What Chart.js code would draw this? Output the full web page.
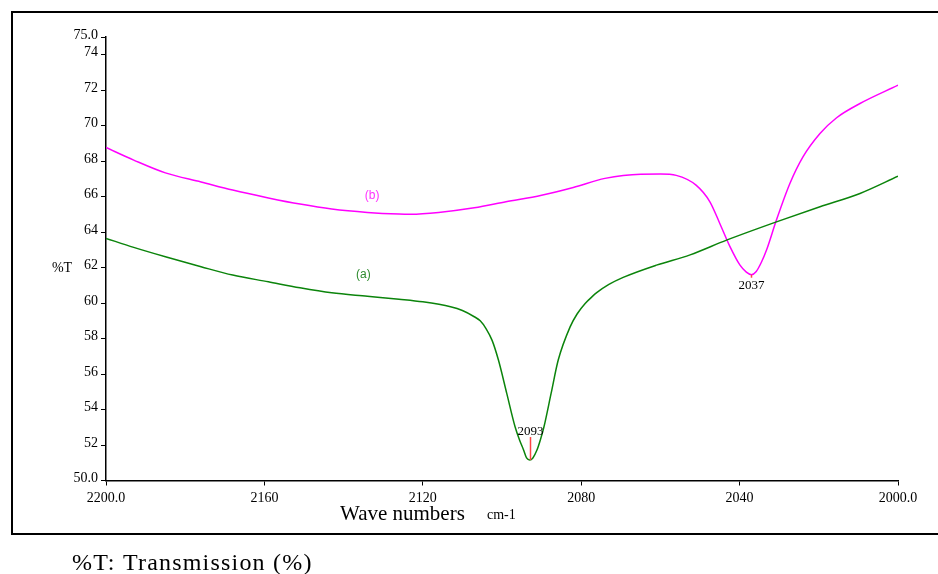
<!DOCTYPE html>
<html>
<head>
<meta charset="utf-8">
<title>IR spectra 2200-2000 cm-1</title>
<script src="https://cdn.jsdelivr.net/npm/chart.js@4.4.1/dist/chart.umd.min.js"></script>
<style>
  html, body { margin: 0; padding: 0; background: #fff; }
  #wrap { width: 938px; height: 574px; }
</style>
</head>
<body>
<div id="wrap"><canvas id="myChart" width="938" height="574"></canvas></div>
<script>
// spectrum (a): wavenumber (cm-1) and %T
const waveA = [2200, 2193, 2185, 2176, 2168, 2159, 2151, 2143, 2134, 2126, 2120, 2113, 2110, 2107,
               2105.5, 2104, 2102.5, 2100.9, 2098.8, 2096.7, 2095.6, 2094.6, 2093.8, 2093, 2092.2, 2091.2,
               2090.3, 2089.4, 2087.6, 2085.8, 2082.8, 2081, 2079, 2077.3, 2076, 2073, 2069.4, 2061,
               2052.5, 2043.3, 2030.7, 2019.7, 2009.6, 2000];
const transA = [63.65, 63.14, 62.61, 62.05, 61.58, 61.20, 60.86, 60.58, 60.39, 60.22, 60.07, 59.79, 59.58, 59.23,
                59.00, 58.55, 57.90, 56.79, 54.91, 53.03, 52.30, 51.75, 51.27, 51.15, 51.27, 51.70,
                52.30, 53.03, 54.91, 56.79, 58.66, 59.40, 59.98, 60.35, 60.60, 61.05, 61.45, 62.14,
                62.72, 63.55, 64.58, 65.43, 66.18, 67.15];

// spectrum (b)
const waveB = [2200, 2193, 2185, 2176, 2168, 2159, 2151, 2143, 2134, 2126, 2123, 2116, 2107, 2099,
               2090, 2082, 2074, 2065, 2060, 2056, 2051, 2047.5, 2045, 2042.4, 2039.9, 2038.3, 2037,
               2035.8, 2034.5, 2033.2, 2030.7, 2027.3, 2024, 2019.7, 2015.5, 2009.6, 2000];
const transB = [68.77, 68.06, 67.34, 66.83, 66.37, 65.93, 65.58, 65.30, 65.11, 65.02, 65.01, 65.11, 65.37, 65.71,
                66.08, 66.52, 67.03, 67.27, 67.28, 67.20, 66.65, 65.71, 64.49, 63.17, 62.14, 61.75, 61.60,
                61.78, 62.30, 62.99, 64.68, 66.74, 68.24, 69.56, 70.45, 71.25, 72.28];

// peak markers
const peakA = { wave: 2093, value: 51.15, label: '2093' };
const peakB = { wave: 2037, value: 61.6, label: '2037' };

const xTicks = [2200, 2160, 2120, 2080, 2040, 2000];
const xTickLabels = ['2200.0', '2160', '2120', '2080', '2040', '2000.0'];
const yTicks = [50, 52, 54, 56, 58, 60, 62, 64, 66, 68, 70, 72, 74, 75];
const yTickLabels = ['50.0', '52', '54', '56', '58', '60', '62', '64', '66', '68', '70', '72', '74', '75.0'];

const serif = 'Liberation Serif';

function toPoints(xs, ys) {
  return xs.map((x, i) => ({ x: x, y: ys[i] }));
}

// frame, axis captions, curve tags and peak marks
const decorations = {
  id: 'decorations',
  afterDraw(chart) {
    const c = chart.ctx;
    const xs = chart.scales.x, ys = chart.scales.y;
    c.save();

    c.strokeStyle = '#000';
    c.lineWidth = 2;
    c.strokeRect(12, 12, 940, 522);

    c.fillStyle = '#000';
    c.textAlign = 'left';
    c.textBaseline = 'alphabetic';
    c.font = '21px "' + serif + '"';
    c.fillText('Wave numbers', 340, 520);
    c.font = '14px "' + serif + '"';
    c.fillText('cm-1', 487, 519);
    c.textAlign = 'center';
    c.textBaseline = 'middle';
    c.fillText('%T', 62, 268);

    // curve tags
    c.font = '12px "Liberation Sans"';
    c.fillStyle = '#2e8b2e';
    c.fillText('(a)', xs.getPixelForValue(2135), ys.getPixelForValue(61.6));
    c.fillStyle = '#ff33ff';
    c.fillText('(b)', xs.getPixelForValue(2132.8), ys.getPixelForValue(66.05));

    // peak (a)
    const pax = Math.round(xs.getPixelForValue(peakA.wave)) + 0.5;
    c.strokeStyle = '#ff4444';
    c.lineWidth = 1.5;
    c.beginPath();
    c.moveTo(pax, ys.getPixelForValue(peakA.value));
    c.lineTo(pax, ys.getPixelForValue(peakA.value + 1.3));
    c.stroke();
    c.fillStyle = '#000';
    c.font = '13px "' + serif + '"';
    c.textBaseline = 'alphabetic';
    c.fillText(peakA.label, pax, ys.getPixelForValue(peakA.value + 1.4));

    // peak (b)
    const pbx = Math.round(xs.getPixelForValue(peakB.wave)) + 0.5;
    const pby = ys.getPixelForValue(peakB.value);
    c.beginPath();
    c.moveTo(pbx, pby);
    c.lineTo(pbx, pby + 3);
    c.stroke();
    c.textBaseline = 'top';
    c.fillText(peakB.label, pbx, pby + 4);

    // caption under the frame
    c.textAlign = 'left';
    c.textBaseline = 'alphabetic';
    c.font = '24px "' + serif + '"';
    c.letterSpacing = '1.2px';
    c.fillText('%T: Transmission (%)', 72, 570);

    c.restore();
  }
};

const ctx = document.getElementById('myChart').getContext('2d');
const myChart = new Chart(ctx, {
  type: 'line',
  data: {
    datasets: [{
      label: '(a)',
      data: toPoints(waveA, transA),
      borderColor: '#0b840b',
      borderWidth: 1.5,
      pointRadius: 0,
      cubicInterpolationMode: 'monotone',
      fill: false
    }, {
      label: '(b)',
      data: toPoints(waveB, transB),
      borderColor: '#ff00ff',
      borderWidth: 1.5,
      pointRadius: 0,
      cubicInterpolationMode: 'monotone',
      fill: false
    }]
  },
  options: {
    responsive: false,
    animation: false,
    devicePixelRatio: 1,
    layout: {
      autoPadding: false,
      padding: { left: 0, top: 37, right: 40, bottom: 0 }
    },
    plugins: {
      legend: { display: false },
      tooltip: { enabled: false }
    },
    scales: {
      x: {
        type: 'linear',
        reverse: true,
        min: 2000,
        max: 2200,
        afterBuildTicks: (s) => { s.ticks = xTicks.map(v => ({ value: v })); },
        afterFit: (s) => { s.height = 93.5; },
        ticks: {
          autoSkip: false,
          maxRotation: 0,
          padding: 4,
          color: '#000',
          font: { family: serif, size: 14 },
          callback: (v) => xTickLabels[xTicks.indexOf(v)]
        },
        grid: { drawOnChartArea: false, tickLength: 5, color: '#000' },
        border: { color: '#000', width: 1.5 }
      },
      y: {
        min: 50,
        max: 75,
        afterBuildTicks: (s) => { s.ticks = yTicks.map(v => ({ value: v })); },
        afterFit: (s) => { s.width = 106; },
        ticks: {
          autoSkip: false,
          padding: 3,
          labelOffset: -2,
          color: '#000',
          font: { family: serif, size: 14 },
          callback: (v) => yTickLabels[yTicks.indexOf(v)]
        },
        grid: { drawOnChartArea: false, tickLength: 5, color: '#000' },
        border: { color: '#000', width: 1.5 }
      }
    }
  },
  plugins: [decorations]
});
</script>
</body>
</html>
